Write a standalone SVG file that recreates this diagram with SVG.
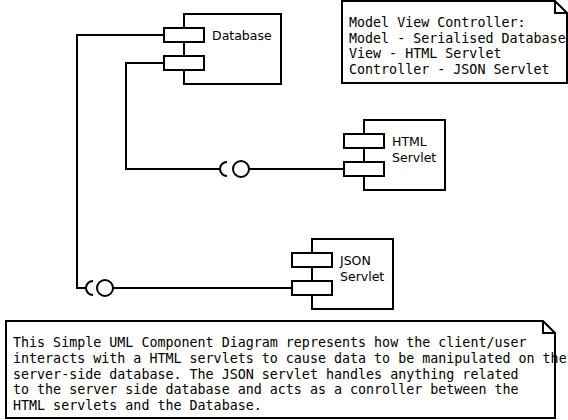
<svg xmlns="http://www.w3.org/2000/svg" width="568" height="420" viewBox="0 0 568 420">
<style>
.s{fill:none;stroke:#000;stroke-width:2}
.b{fill:#fff;stroke:#000;stroke-width:2}
.lbl{font-family:"DejaVu Sans",sans-serif;font-size:12.5px;fill:#000}
.mono{font-family:"DejaVu Sans Mono",monospace;font-size:13.33px;fill:#000}
</style>
<rect width="568" height="420" fill="#fff"/>
<g id="connectors">
<polyline class="s" points="164,35 77,35 77,288 86,288"/>
<path class="s" d="M93,281 A7,7 0 0 0 93,295"/>
<circle class="b" cx="105" cy="288" r="8"/>
<line class="s" x1="113" y1="288" x2="292" y2="288"/>
<polyline class="s" points="164,63 126,63 126,169 220,169"/>
<path class="s" d="M227,162 A7,7 0 0 0 227,176"/>
<circle class="b" cx="241" cy="169" r="8"/>
<line class="s" x1="249" y1="169" x2="344" y2="169"/>
</g>
<g id="database">
<rect class="b" x="184" y="14" width="97" height="70"/>
<rect class="b" x="164" y="28" width="40" height="14"/>
<rect class="b" x="164" y="56" width="40" height="14"/>
<text class="lbl" x="212" y="40">Database</text>
</g>
<g id="html-servlet">
<rect class="b" x="364" y="120" width="81" height="70"/>
<rect class="b" x="344" y="134" width="40" height="14"/>
<rect class="b" x="344" y="162" width="40" height="14"/>
<text class="lbl" x="392" y="146">HTML</text>
<text class="lbl" x="392" y="162">Servlet</text>
</g>
<g id="json-servlet">
<rect class="b" x="312" y="239" width="81" height="70"/>
<rect class="b" x="292" y="253" width="40" height="14"/>
<rect class="b" x="292" y="281" width="40" height="14"/>
<text class="lbl" x="340" y="265">JSON</text>
<text class="lbl" x="340" y="281">Servlet</text>
</g>
<g id="mvc-note">
<path class="b" d="M342,1 H555 L567,13 V83 H342 Z"/>
<path class="s" d="M555,1 V13 H567" stroke-width="1"/>
<text class="mono" x="349" y="27">Model View Controller:</text>
<text class="mono" x="349" y="42.5">Model - Serialised Database</text>
<text class="mono" x="349" y="58">View - HTML Servlet</text>
<text class="mono" x="349" y="73.5">Controller - JSON Servlet</text>
</g>
<g id="description-note">
<path class="b" d="M6,321 H543 L555,333 V418 H6 Z"/>
<path class="s" d="M543,321 V333 H555" stroke-width="1"/>
<text class="mono" x="13" y="347">This Simple UML Component Diagram represents how the client/user</text>
<text class="mono" x="13" y="362.75">interacts with a HTML servlets to cause data to be manipulated on the</text>
<text class="mono" x="13" y="378.5">server-side database. The JSON servlet handles anything related</text>
<text class="mono" x="13" y="394.25">to the server side database and acts as a conroller between the</text>
<text class="mono" x="13" y="410">HTML servlets and the Database.</text>
</g>
</svg>
